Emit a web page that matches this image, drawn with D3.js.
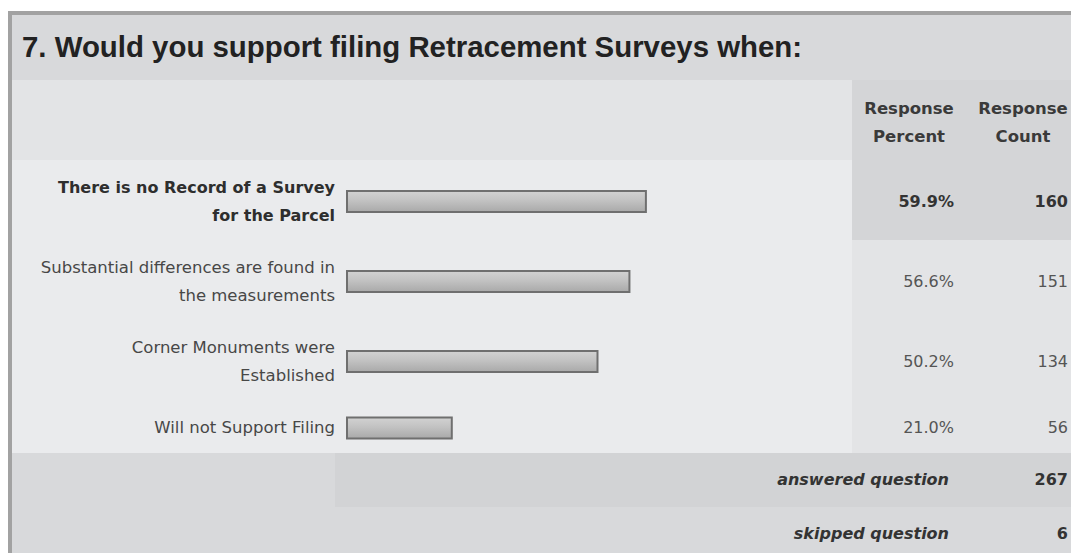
<!DOCTYPE html>
<html><head><meta charset="utf-8">
<script src="https://cdn.jsdelivr.net/npm/d3@7"></script>
<style>html,body{margin:0;padding:0;background:#fff;overflow:hidden}</style>
</head><body>
<svg id="c" width="1071" height="553"></svg>
<script>
const title = "7. Would you support filing Retracement Surveys when:";
const categories = [
  ["There is no Record of a Survey", "for the Parcel"],
  ["Substantial differences are found in", "the measurements"],
  ["Corner Monuments were", "Established"],
  ["Will not Support Filing"]
];
const percents = [59.9, 56.6, 50.2, 21.0];
const percentLabels = ["59.9%", "56.6%", "50.2%", "21.0%"];
const counts = [160, 151, 134, 56];
const headerPercent = ["Response", "Percent"];
const headerCount = ["Response", "Count"];
const footerLabels = ["answered question", "skipped question"];
const footerValues = [267, 6];

const svg = d3.select("#c");
const W = 1071, H = 553;
const bodyFont = "'DejaVu Sans', sans-serif";

const defs = svg.append("defs");
const grad = defs.append("linearGradient").attr("id", "barg").attr("x1", 0).attr("y1", 0).attr("x2", 0).attr("y2", 1);
grad.append("stop").attr("offset", "0%").attr("stop-color", "#d2d2d2");
grad.append("stop").attr("offset", "45%").attr("stop-color", "#c2c2c2");
grad.append("stop").attr("offset", "100%").attr("stop-color", "#a9a9a9");

const bg = svg.append("g").attr("shape-rendering", "crispEdges");

// frame
bg.append("rect").attr("x", 0).attr("y", 0).attr("width", W).attr("height", H).attr("fill", "#fff");
bg.append("rect").attr("x", 8).attr("y", 11).attr("width", W - 8).attr("height", H - 11).attr("fill", "#a2a2a2");

// title band
bg.append("rect").attr("x", 12).attr("y", 15).attr("width", W - 12).attr("height", 65).attr("fill", "#d8d9db");
svg.append("text").attr("x", 22).attr("y", 57)
  .attr("font-family", "'Liberation Sans', Arial, sans-serif").attr("font-weight", "bold")
  .attr("font-size", 29.4).attr("fill", "#222").text(title);

// column positions
const colSplit = 852;
const pctRight = 954, cntRight = 1068;
const pctCenter = 909, cntCenter = 1023;

// header row
bg.append("rect").attr("x", 12).attr("y", 80).attr("width", colSplit - 12).attr("height", 80).attr("fill", "#e3e4e6");
bg.append("rect").attr("x", colSplit).attr("y", 80).attr("width", W - colSplit).attr("height", 80).attr("fill", "#d4d5d7");
[[headerPercent, pctCenter], [headerCount, cntCenter]].forEach(([lines, cx]) => {
  lines.forEach((t, i) => {
    svg.append("text").attr("x", cx).attr("y", 114 + i * 28).attr("text-anchor", "middle")
      .attr("font-family", bodyFont).attr("font-weight", "bold").attr("font-size", 16.5)
      .attr("fill", "#3a3a3a").text(t);
  });
});

// rows
const rowTop0 = 160;
const rowHeights = categories.map(c => c.length === 2 ? 80 : 53);
const rowTops = [];
let acc = rowTop0;
rowHeights.forEach(h => { rowTops.push(acc); acc += h; });
const rowsBottom = acc;

const x = d3.scaleLinear().domain([0, 100]).range([347, 846]);
const barH = 21;

categories.forEach((lines, i) => {
  const top = rowTops[i], h = rowHeights[i];
  const cy = top + h / 2 + 1.5;
  const bold = i === 0;
  bg.append("rect").attr("x", 12).attr("y", top).attr("width", colSplit - 12).attr("height", h + (i < categories.length - 1 ? 1 : 0)).attr("fill", "#eaebed");
  bg.append("rect").attr("x", colSplit).attr("y", top).attr("width", W - colSplit).attr("height", h + (i < categories.length - 1 ? 1 : 0))
    .attr("fill", i === 0 ? "#d4d5d7" : "#e3e4e6");
  lines.forEach((t, j) => {
    svg.append("text").attr("x", 335).attr("y", cy + 5 + (j - (lines.length - 1) / 2) * 28)
      .attr("text-anchor", "end").attr("font-family", bodyFont)
      .attr("font-weight", bold ? "bold" : "normal").attr("font-size", bold ? 16 : 16.5)
      .attr("fill", bold ? "#2e2e2e" : "#474747").text(t);
  });
  svg.append("rect").attr("x", x(0)).attr("y", cy - barH / 2)
    .attr("width", x(percents[i]) - x(0)).attr("height", barH)
    .attr("fill", "url(#barg)").attr("stroke", "#6f6f6f").attr("stroke-width", 2);
  svg.append("text").attr("x", pctRight).attr("y", cy + 5).attr("text-anchor", "end")
    .attr("font-family", bodyFont).attr("font-size", 16).attr("font-weight", bold ? "bold" : "normal")
    .attr("fill", bold ? "#333" : "#555").text(percentLabels[i]);
  svg.append("text").attr("x", cntRight).attr("y", cy + 5).attr("text-anchor", "end")
    .attr("font-family", bodyFont).attr("font-size", 16).attr("font-weight", bold ? "bold" : "normal")
    .attr("fill", bold ? "#333" : "#555").text(counts[i]);
});

// footer
const footTops = [rowsBottom, rowsBottom + 54];
const footH = [54, H - rowsBottom - 54];
footerLabels.forEach((t, i) => {
  bg.append("rect").attr("x", 12).attr("y", footTops[i]).attr("width", W - 12).attr("height", footH[i] + (i === 0 ? 1 : 0)).attr("fill", "#d8d9db");
  if (i === 0) bg.append("rect").attr("x", 335).attr("y", footTops[i]).attr("width", W - 335).attr("height", footH[i]).attr("fill", "#d2d3d5");
  const cy = footTops[i] + (i === 0 ? footH[i] / 2 : 27);
  svg.append("text").attr("x", 949).attr("y", cy + 5).attr("text-anchor", "end")
    .attr("font-family", bodyFont).attr("font-weight", "bold").attr("font-style", "italic")
    .attr("font-size", 16).attr("fill", "#333").text(t);
  svg.append("text").attr("x", cntRight).attr("y", cy + 5).attr("text-anchor", "end")
    .attr("font-family", bodyFont).attr("font-weight", "bold")
    .attr("font-size", 16).attr("fill", "#333").text(footerValues[i]);
});
</script>
</body></html>
